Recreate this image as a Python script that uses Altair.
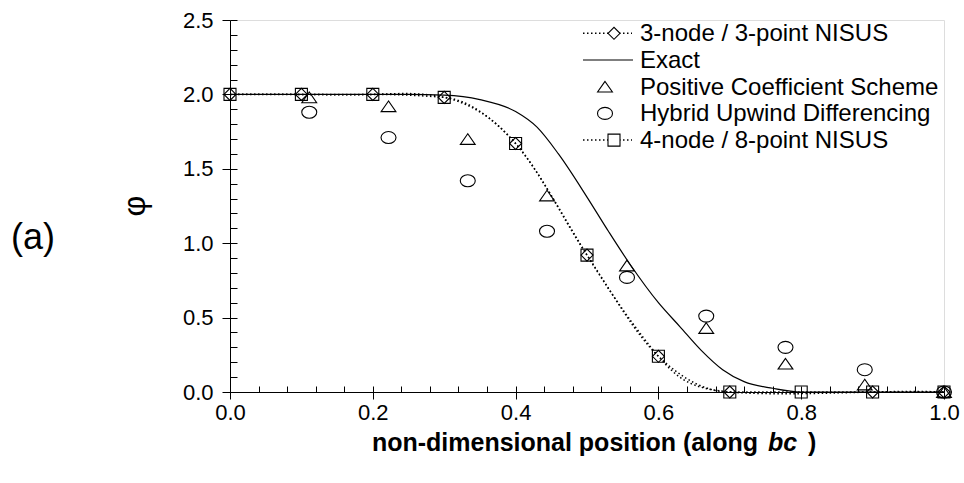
import altair as alt
import pandas as pd

FONT = "Liberation Sans"

# ---- data ----
nisus3_x = [0.0, 0.1, 0.2, 0.3, 0.4, 0.5, 0.6, 0.7, 0.9, 1.0]
nisus3_y = [2.0, 2.0, 2.0, 1.98, 1.67, 0.92, 0.24, 0.0, 0.0, 0.0]

nisus4_x = [0.0, 0.1, 0.2, 0.3, 0.4, 0.5, 0.6, 0.7, 0.8, 0.9, 1.0]
nisus4_y = [2.0, 2.0, 2.0, 1.98, 1.67, 0.92, 0.24, 0.0, 0.0, 0.0, 0.0]

exact_x = [0.0, 0.1, 0.2, 0.25, 0.3, 0.35, 0.4, 0.43, 0.46, 0.5, 0.53, 0.56,
           0.6, 0.63, 0.66, 0.69, 0.72, 0.76, 0.8, 0.9, 1.0]
exact_y = [2.0, 2.0, 2.0, 2.0, 1.995, 1.965, 1.885, 1.78, 1.60, 1.31, 1.08, 0.86,
           0.60, 0.44, 0.28, 0.15, 0.07, 0.025, 0.0, 0.0, 0.0]

scheme_x = [0.111, 0.222, 0.333, 0.444, 0.556, 0.667, 0.778, 0.889, 1.0]
pcs_y = [1.98, 1.92, 1.70, 1.32, 0.85, 0.43, 0.19, 0.05, 0.0]
hud_y = [1.88, 1.71, 1.42, 1.08, 0.77, 0.51, 0.30, 0.15, 0.0]

x_ticks = [0.0, 0.2, 0.4, 0.6, 0.8, 1.0]
y_ticks = [0.0, 0.5, 1.0, 1.5, 2.0, 2.5]
x_minor = [0.0, 0.04, 0.08, 0.12, 0.16, 0.2, 0.24, 0.28, 0.32, 0.36, 0.4, 0.44,
           0.48, 0.52, 0.56, 0.6, 0.64, 0.68, 0.72, 0.76, 0.8, 0.84, 0.88,
           0.92, 0.96, 1.0]
y_minor = [0.0, 0.1, 0.2, 0.3, 0.4, 0.5, 0.6, 0.7, 0.8, 0.9, 1.0, 1.1, 1.2,
           1.3, 1.4, 1.5, 1.6, 1.7, 1.8, 1.9, 2.0, 2.1, 2.2, 2.3, 2.4, 2.5]

legend_labels = ["3-node / 3-point NISUS", "Exact", "Positive Coefficient Scheme",
                 "Hybrid Upwind Differencing", "4-node / 8-point NISUS"]
x_title = ["non-dimensional position (along", "bc", ")"]
y_title = "φ"
panel_label = "(a)"

W, H = 714, 372
DOT = [1.5, 2.5]
LABEL_SIZE = 22
LEGEND_SIZE = 24

# slightly flattened open symbols (the reference is a little stretched sideways)
ELLIPSE = "M -1 0 A 1 0.8 0 1 0 1 0 A 1 0.8 0 1 0 -1 0 Z"
TRIANGLE = "M 0 -0.72 L -1 0.72 L 1 0.72 Z"

nisus3 = pd.DataFrame({"x": nisus3_x, "y": nisus3_y})
nisus4 = pd.DataFrame({"x": nisus4_x, "y": nisus4_y})
exact = pd.DataFrame({"x": exact_x, "y": exact_y})
pcs = pd.DataFrame({"x": scheme_x, "y": pcs_y})
hud = pd.DataFrame({"x": scheme_x, "y": hud_y})

xs = alt.Scale(domain=[0, 1], nice=False, zero=False)
ys = alt.Scale(domain=[0, 2.5], nice=False, zero=False)

x_axis = alt.Axis(values=x_ticks, format=".1f", title=None, grid=False,
                  tickSize=7, tickWidth=1, tickColor="black",
                  domainColor="black", domainWidth=1,
                  labelColor="black", labelFont=FONT, labelFontSize=LABEL_SIZE,
                  labelPadding=3, labelFlush=False, labelOverlap=False)
y_axis = alt.Axis(values=y_ticks, format=".1f", title=None, grid=False,
                  tickSize=8, tickWidth=1, tickColor="black",
                  domainColor="black", domainWidth=1,
                  labelColor="black", labelFont=FONT, labelFontSize=LABEL_SIZE,
                  labelPadding=9, labelFlush=False, labelOverlap=False)

X = alt.X("x:Q", scale=xs, axis=x_axis)
Y = alt.Y("y:Q", scale=ys, axis=y_axis)

line3 = alt.Chart(nisus3).mark_line(interpolate="natural", color="black",
                                    strokeWidth=1.5, strokeDash=DOT).encode(x=X, y=Y)
line4 = alt.Chart(nisus4).mark_line(interpolate="monotone", color="black",
                                    strokeWidth=1.5, strokeDash=DOT).encode(x=X, y=Y)
line_exact = alt.Chart(exact).mark_line(interpolate="monotone", color="black",
                                        strokeWidth=1.2).encode(x=X, y=Y)

def pts(df, shape, size):
    return alt.Chart(df).mark_point(shape=shape, size=size, filled=False,
                                    color="black", strokeWidth=1.1,
                                    opacity=1).encode(x=X, y=Y)

p3 = pts(nisus3, "diamond", 144)
p4 = pts(nisus4, "square", 144)
ppcs = pts(pcs, TRIANGLE, 220)
phud = pts(hud, ELLIPSE, 225)

main = alt.layer(line_exact, line3, line4, p3, p4, ppcs, phud)

# inward minor ticks (axes flipped to the inside)
inner = alt.Chart(exact).mark_point(opacity=0).encode(
    x=alt.X("x:Q", scale=xs, axis=alt.Axis(orient="top", offset=-H, values=x_minor,
                                             labels=False, domain=False, grid=False,
                                             tickSize=6, tickColor="black", title=None)),
    y=alt.Y("y:Q", scale=ys, axis=alt.Axis(orient="right", offset=-W, values=y_minor,
                                             labels=False, domain=False, grid=False,
                                             tickSize=7, tickColor="black", title=None)),
)

# ---- legend ----
one = pd.DataFrame({"a": [0]})
leg_layers = []
ly0, ldy = 13.3, 26.7
kinds = ["diamond", "solid", "triangle", "ellipse", "square"]
for i, (lab, kind) in enumerate(zip(legend_labels, kinds)):
    yy = ly0 + i * ldy
    leg_layers.append(alt.Chart(pd.DataFrame({"t": [lab]})).mark_text(
        align="left", baseline="middle", font=FONT, fontSize=LEGEND_SIZE, color="black"
    ).encode(x=alt.value(410), y=alt.value(yy + 1), text="t:N"))
    if kind in ("diamond", "square"):
        leg_layers.append(alt.Chart(one).mark_rule(color="black", strokeWidth=1.5,
                                                   strokeDash=DOT).encode(
            x=alt.value(353), x2=alt.value(402), y=alt.value(yy)))
        leg_layers.append(alt.Chart(one).mark_point(shape=kind, size=144, filled=True,
                                                    fill="white", stroke="black",
                                                    strokeWidth=1.1, opacity=1).encode(
            x=alt.value(384), y=alt.value(yy)))
    elif kind == "solid":
        leg_layers.append(alt.Chart(one).mark_rule(color="black", strokeWidth=1.2).encode(
            x=alt.value(353), x2=alt.value(403), y=alt.value(yy)))
    else:
        leg_layers.append(alt.Chart(one).mark_point(
            shape=TRIANGLE if kind == "triangle" else ELLIPSE,
            size=220 if kind == "triangle" else 225,
            filled=False, color="black", strokeWidth=1.1, opacity=1).encode(
            x=alt.value(375), y=alt.value(yy)))

# ---- titles / annotations ----
TS = 25
TY = 431
tx = [
    alt.Chart(pd.DataFrame({"t": [x_title[0]]})).mark_text(
        align="right", baseline="alphabetic", font=FONT, fontSize=TS,
        fontWeight="bold", color="black").encode(x=alt.value(528), y=alt.value(TY), text="t:N"),
    alt.Chart(pd.DataFrame({"t": [x_title[1]]})).mark_text(
        align="left", baseline="alphabetic", font=FONT, fontSize=TS,
        fontWeight="bold", fontStyle="italic", color="black").encode(x=alt.value(538), y=alt.value(TY), text="t:N"),
    alt.Chart(pd.DataFrame({"t": [x_title[2]]})).mark_text(
        align="left", baseline="alphabetic", font=FONT, fontSize=TS,
        fontWeight="bold", color="black").encode(x=alt.value(578), y=alt.value(TY), text="t:N"),
    alt.Chart(pd.DataFrame({"t": [y_title]})).mark_text(
        align="center", baseline="middle", font=FONT, fontSize=32, angle=270,
        color="black").encode(x=alt.value(-95), y=alt.value(186), text="t:N"),
    alt.Chart(pd.DataFrame({"t": [panel_label]})).mark_text(
        align="left", baseline="alphabetic", font=FONT, fontSize=36,
        color="black").encode(x=alt.value(-219), y=alt.value(229), text="t:N"),
]

chart = alt.layer(main, inner, *leg_layers, *tx).resolve_scale(
    x="independent", y="independent"
).properties(
    width=W, height=H,
    autosize=alt.AutoSizeParams(type="none"),
    padding={"left": 230, "top": 20, "right": 20, "bottom": 91},
).configure_view(stroke=None).configure(background="white")

chart.save("out.html", embed_options={"renderer": "svg", "actions": False})
